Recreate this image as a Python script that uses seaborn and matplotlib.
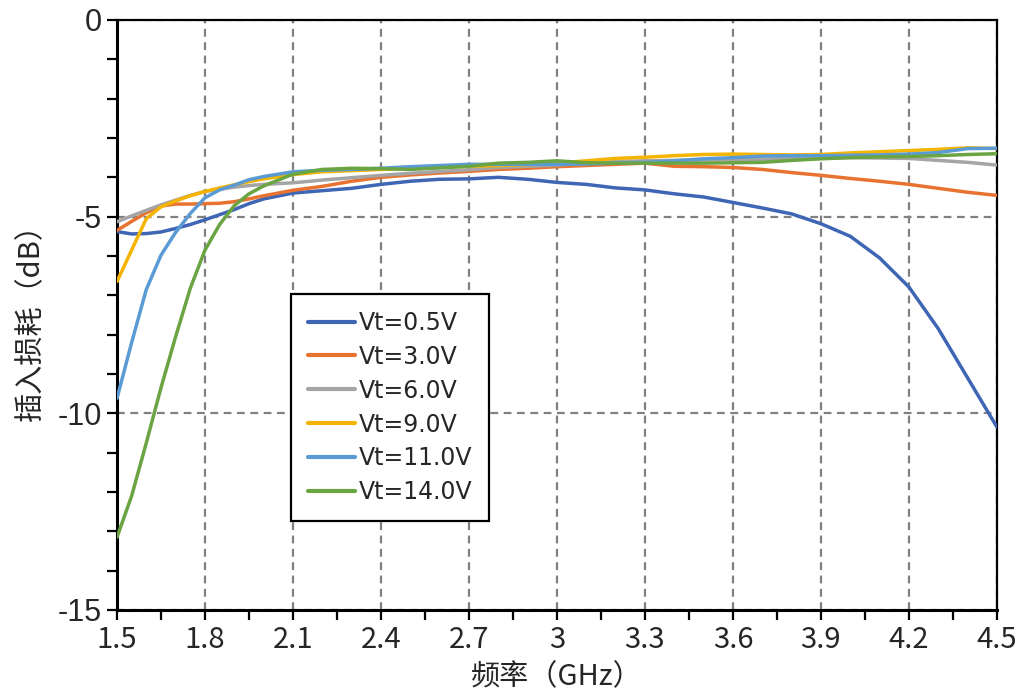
import matplotlib
matplotlib.use("Agg")
import matplotlib.pyplot as plt
import seaborn as sns
import pandas as pd
from matplotlib.ticker import MultipleLocator

sns.set_theme(style="ticks")
plt.rcParams.update(
    {
        "font.family": ["Noto Sans CJK SC", "DejaVu Sans"],
        "axes.unicode_minus": False,
    }
)

# frequency points (GHz)
freq = [1.5, 1.55, 1.6, 1.65, 1.7, 1.75, 1.8, 1.85, 1.9, 1.95, 2.0,
        2.1, 2.2, 2.3, 2.4, 2.5, 2.6, 2.7, 2.8, 2.9, 3.0,
        3.1, 3.2, 3.3, 3.4, 3.5, 3.6, 3.7, 3.8, 3.9, 4.0,
        4.1, 4.2, 4.3, 4.4, 4.5]

# insertion loss (dB) per tuning voltage
il_05 = [-5.38, -5.44, -5.43, -5.39, -5.30, -5.20, -5.08, -4.95, -4.82, -4.67, -4.55,
         -4.40, -4.34, -4.28, -4.18, -4.10, -4.05, -4.04, -4.00, -4.05, -4.13,
         -4.18, -4.27, -4.32, -4.42, -4.50, -4.64, -4.78, -4.93, -5.18, -5.50,
         -6.05, -6.79, -7.85, -9.10, -10.35]
il_30 = [-5.35, -5.12, -4.90, -4.73, -4.68, -4.68, -4.67, -4.66, -4.62, -4.55, -4.47,
         -4.33, -4.23, -4.10, -4.00, -3.94, -3.89, -3.85, -3.80, -3.77, -3.73,
         -3.70, -3.67, -3.64, -3.72, -3.73, -3.75, -3.80, -3.88, -3.95, -4.03,
         -4.10, -4.18, -4.28, -4.38, -4.46]
il_60 = [-5.13, -4.98, -4.84, -4.70, -4.58, -4.46, -4.36, -4.30, -4.25, -4.21, -4.18,
         -4.14, -4.07, -4.01, -3.95, -3.90, -3.85, -3.81, -3.75, -3.72, -3.69,
         -3.64, -3.60, -3.58, -3.57, -3.56, -3.55, -3.54, -3.52, -3.50, -3.50,
         -3.51, -3.52, -3.57, -3.62, -3.69]
il_90 = [-6.65, -5.85, -5.05, -4.75, -4.60, -4.47, -4.36, -4.27, -4.19, -4.11, -4.04,
         -3.93, -3.86, -3.83, -3.80, -3.77, -3.74, -3.72, -3.70, -3.68, -3.64,
         -3.58, -3.52, -3.49, -3.45, -3.42, -3.41, -3.42, -3.43, -3.42, -3.38,
         -3.35, -3.32, -3.29, -3.25, -3.27]
il_110 = [-9.62, -8.20, -6.85, -5.98, -5.40, -4.92, -4.52, -4.32, -4.20, -4.06, -3.98,
          -3.86, -3.82, -3.80, -3.77, -3.73, -3.70, -3.67, -3.67, -3.67, -3.67,
          -3.66, -3.64, -3.62, -3.58, -3.53, -3.50, -3.46, -3.45, -3.45, -3.44,
          -3.43, -3.41, -3.37, -3.27, -3.26]
il_140 = [-13.15, -12.10, -10.75, -9.35, -8.05, -6.82, -5.85, -5.20, -4.72, -4.42, -4.22,
          -3.92, -3.80, -3.77, -3.78, -3.80, -3.76, -3.72, -3.64, -3.62, -3.58,
          -3.63, -3.64, -3.64, -3.64, -3.64, -3.63, -3.62, -3.57, -3.53, -3.50,
          -3.48, -3.47, -3.45, -3.42, -3.40]

labels = ["Vt=0.5V", "Vt=3.0V", "Vt=6.0V", "Vt=9.0V", "Vt=11.0V", "Vt=14.0V"]
series = [il_05, il_30, il_60, il_90, il_110, il_140]
colors = ["#3F66B5", "#E8722F", "#A5A5A5", "#F4B400", "#5B9BD5", "#6AA443"]

rows = []
for lab, vals in zip(labels, series):
    for f, v in zip(freq, vals):
        rows.append({"freq": f, "il": v, "Vt": lab})
df = pd.DataFrame(rows)

fig = plt.figure(figsize=(10.28, 6.96), dpi=100)
ax = fig.add_axes([0.1138, 0.1236, 0.856, 0.8477])

sns.lineplot(data=df, x="freq", y="il", hue="Vt", hue_order=labels,
             palette=colors, linewidth=2.5, ax=ax, zorder=3)

ax.set_xlim(1.5, 4.5)
ax.set_ylim(-15, 0)
ax.xaxis.set_minor_locator(MultipleLocator(0.15))
ax.yaxis.set_minor_locator(MultipleLocator(1))
xt = [1.5, 1.8, 2.1, 2.4, 2.7, 3.0, 3.3, 3.6, 3.9, 4.2, 4.5]
ax.set_xticks(xt)
ax.set_xticklabels(["1.5", "1.8", "2.1", "2.4", "2.7", "3", "3.3", "3.6", "3.9", "4.2", "4.5"],
                   fontsize=21)
ax.set_yticks([0, -5, -10, -15])
ax.set_yticklabels(["0", "-5", "-10", "-15"], fontsize=22, family="Liberation Sans")

ax.tick_params(axis="both", which="both", direction="out", length=7, width=1.6,
               color="black", pad=4)

ax.grid(True, which="major", color="#808080", linestyle=(0, (3.5, 2.5)), linewidth=1.6)
ax.set_axisbelow(True)

for s in ax.spines.values():
    s.set_color("black")
    s.set_linewidth(1.6)
ax.spines["left"].set_linewidth(2.2)
ax.spines["bottom"].set_linewidth(2.2)

ax.set_xlabel("频率（GHz）", fontsize=21, labelpad=5)
ax.set_ylabel("插入损耗（dB）", fontsize=21, labelpad=8)

leg = ax.legend(loc="lower left", bbox_to_anchor=(0.198, 0.151), borderaxespad=0,
                prop={"family": ["DejaVu Sans"], "size": 17},
                frameon=True, fancybox=False, edgecolor="black",
                framealpha=1, handlelength=2.0, labelspacing=0.42,
                borderpad=0.7, handletextpad=0.15)
leg.get_frame().set_linewidth(1.6)
for line in leg.get_lines():
    line.set_linewidth(3)

fig.savefig("out.png", dpi=100)
